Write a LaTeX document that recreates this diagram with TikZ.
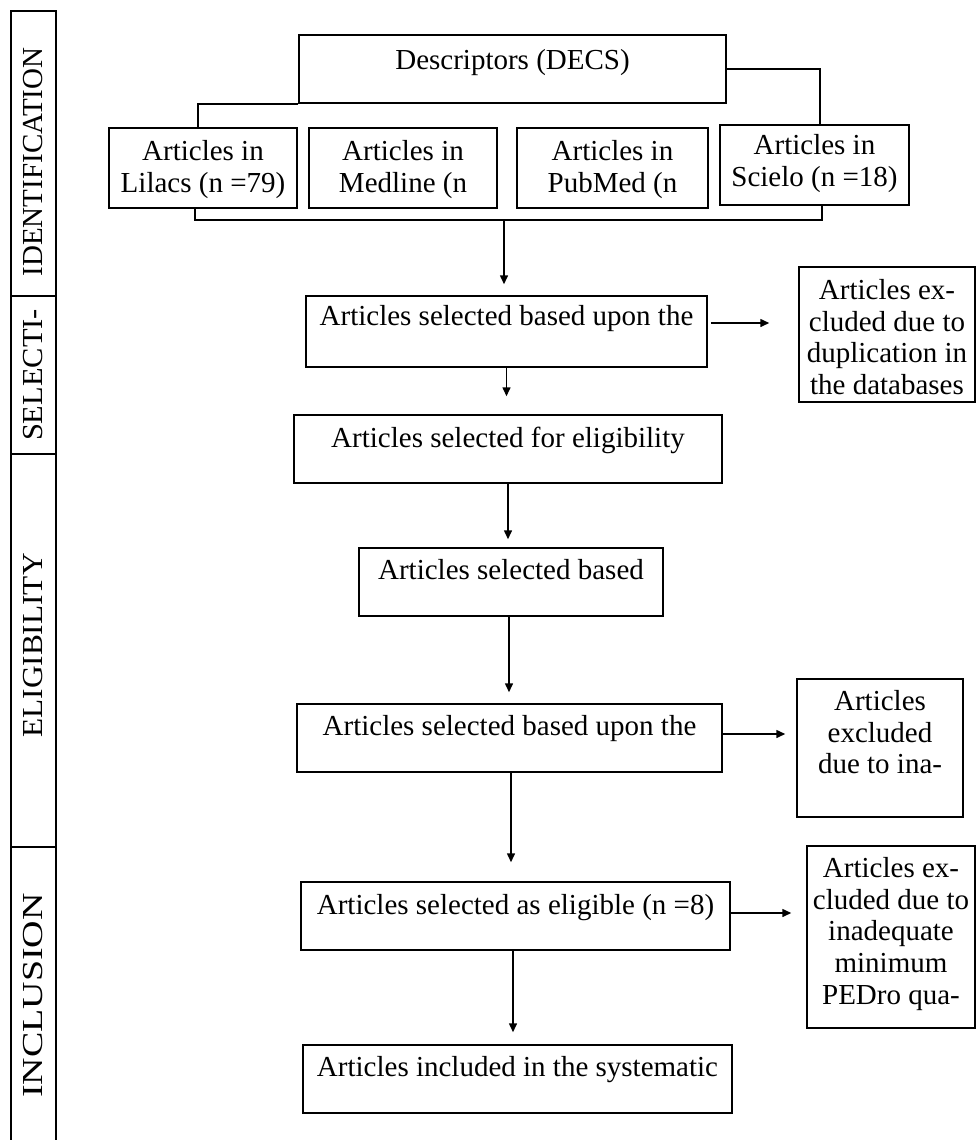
\documentclass[tikz,border=0pt]{standalone}
\usepackage{fontspec}
\setmainfont{Liberation Serif}
\usepackage{graphicx}
\usetikzlibrary{arrows.meta}
\newcommand\firstlinerule{\rule{0pt}{22pt}}
\begin{document}
\begin{tikzpicture}[x=1pt,y=-1pt,
  frame/.style={draw, line width=1.5pt, inner sep=0pt, rectangle},
  txt/.style={anchor=north, inner sep=0pt, align=center,
    font=\fontsize{29}{31.7}\selectfont, execute at begin node=\firstlinerule},
  conn/.style={line width=1.5pt},
  arr/.style={conn, -{Triangle[length=9pt,width=8pt]}},
  lab/.style={frame, minimum width=45pt, font=\fontsize{29}{31.7}\selectfont}]
\useasboundingbox (0,0) rectangle (976,1140);

% phase column
\node[lab, minimum height=285pt] (lab1) at (33.5,153.5) {\rotatebox{90}{\hspace*{-17pt}IDENTIFICATION}};
\node[lab, minimum height=158pt] (lab2) at (33.5,375) {\rotatebox{90}{\scalebox{1.05}[1]{SELECTI-}}};
\node[lab, minimum height=393pt] (lab3) at (33.5,650.5) {\rotatebox{90}{\scalebox{1.08}[1]{ELIGIBILITY}\hspace*{-10pt}}};
\node[lab, minimum height=297pt] (lab4) at (33.5,995.5) {\rotatebox{90}{\scalebox{1.31}[1]{INCLUSION}}};

% top
\node[frame, minimum width=427pt, minimum height=68pt] (desc) at (512.5,69) {};
\node[txt] (tdesc) at ([yshift=-13pt]desc.north) {Descriptors (DECS)};

\node[frame, minimum width=188pt, minimum height=80pt] (lil) at (203,168) {};
\node[txt] (tlil) at ([yshift=-13pt]lil.north) {Articles in\\Lilacs (n =79)};
\node[frame, minimum width=188pt, minimum height=80pt] (med) at (403,168) {};
\node[txt] (tmed) at ([yshift=-13pt]med.north) {Articles in\\Medline (n};
\node[frame, minimum width=191pt, minimum height=80pt] (pub) at (612.5,168) {};
\node[txt] (tpub) at ([yshift=-13pt]pub.north) {Articles in\\PubMed (n};
\node[frame, minimum width=189pt, minimum height=80pt] (sci) at (814.5,165) {};
\node[txt] (tsci) at ([yshift=-10pt]sci.north) {Articles in\\Scielo (n =18)};

% main column
\node[frame, minimum width=401pt, minimum height=71pt] (b1) at (506.5,331.5) {};
\node[txt] (tb1) at ([yshift=-8pt]b1.north) {Articles selected based upon the};
\node[frame, minimum width=428pt, minimum height=68pt] (b2) at (508,449) {};
\node[txt] (tb2) at ([yshift=-11pt]b2.north) {Articles selected for eligibility};
\node[frame, minimum width=304pt, minimum height=68pt] (b3) at (511,582) {};
\node[txt] (tb3) at ([yshift=-10pt]b3.north) {Articles selected based};
\node[frame, minimum width=425pt, minimum height=68pt] (b4) at (509.5,738) {};
\node[txt] (tb4) at ([yshift=-10pt]b4.north) {Articles selected based upon the};
\node[frame, minimum width=429pt, minimum height=68pt] (b5) at (515.5,916) {};
\node[txt] (tb5) at ([yshift=-11pt]b5.north) {Articles selected as eligible (n =8)};
\node[frame, minimum width=429pt, minimum height=68pt] (b6) at (517.5,1079) {};
\node[txt] (tb6) at ([yshift=-10pt]b6.north) {Articles included in the systematic};

% exclusion boxes
\node[frame, minimum width=176pt, minimum height=135pt] (dup) at (887,334.5) {};
\node[txt] (tdup) at ([yshift=-13pt]dup.north) {Articles ex-\\cluded due to\\duplication in\\the databases};
\node[frame, minimum width=166pt, minimum height=138pt] (ina) at (880,748) {};
\node[txt] (tina) at ([yshift=-12pt]ina.north) {Articles\\excluded\\due to ina-};
\node[frame, minimum width=168pt, minimum height=182pt] (ped) at (891,937) {};
\node[txt] (tped) at ([yshift=-12pt]ped.north) {Articles ex-\\cluded due to\\inadequate\\minimum\\PEDro qua-};

% connectors
\coordinate (bus) at (504,220);
\draw[conn] (desc.south west) -| ([xshift=-5pt]lil.north);
\draw[conn] (desc.east) -| ([xshift=5.5pt]sci.north);
\draw[conn] ([xshift=-8pt]lil.south) |- (bus) -| ([xshift=7.5pt]sci.south);
\draw[arr, shorten >=11pt] (bus) -- (bus |- b1.north);
\draw[arr, shorten >=18pt] (b1.south) -- (b1.south |- b2.north);
\draw[arr, shorten >=8pt] (b2.south) -- (b2.south |- b3.north);
\draw[arr, shorten >=11pt] ([xshift=-2pt]b3.south) -- ([xshift=-2pt]b3.south |- b4.north);
\draw[arr, shorten >=19pt] ([xshift=1.5pt]b4.south) -- ([xshift=1.5pt]b4.south |- b5.north);
\draw[arr, shorten >=12pt] ([xshift=-2.5pt]b5.south) -- ([xshift=-2.5pt]b5.south |- b6.north);
\draw[arr, shorten <=3pt, shorten >=29pt] ([yshift=8.5pt]b1.east) -- ([yshift=8.5pt]b1.east -| dup.west);
\draw[arr, shorten >=11pt] ([yshift=4pt]b4.east) -- ([yshift=4pt]b4.east -| ina.west);
\draw[arr, shorten >=15pt] ([yshift=3pt]b5.east) -- ([yshift=3pt]b5.east -| ped.west);
\end{tikzpicture}
\end{document}
